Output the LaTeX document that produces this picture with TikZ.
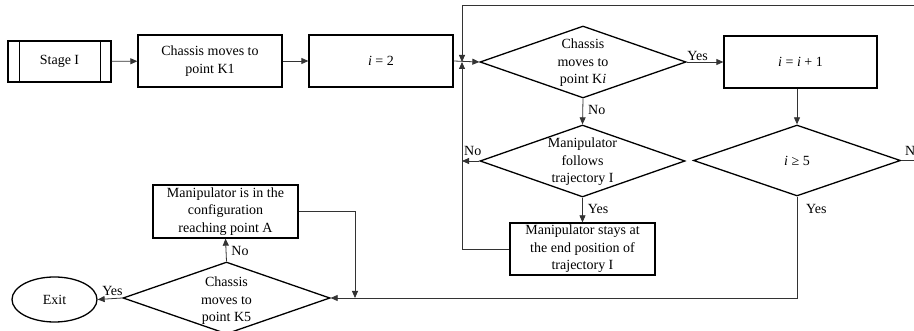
\documentclass[tikz,border=0pt]{standalone}
\usepackage{fontspec}
\setmainfont{Liberation Serif}
\usetikzlibrary{shapes.geometric,arrows.meta}
\begin{document}
\begin{tikzpicture}[x=1pt,y=-1pt,
  every node/.style={font=\fontsize{14}{17.5}\selectfont},
  box/.style={draw=black,line width=1.3pt,rectangle,align=center,inner sep=0pt},
  dia/.style={draw=black,line width=1.3pt,diamond,inner sep=0pt},
  dtext/.style={align=center,inner sep=0pt},
  conn/.style={draw=black!80,line width=0.8pt},
  arr/.style={conn,-{Triangle[length=7pt,width=6pt]}},
  lbl/.style={inner sep=1pt},
  slbl/.style={inner sep=1pt,xshift=4pt}]
\useasboundingbox (0,0) rectangle (914,331);

% nodes
\node[box,minimum width=103,minimum height=41] (s) at (59.5,61.5) {Stage I};
\draw[line width=1.3pt] ([xshift=12]s.north west) -- ([xshift=12]s.south west);
\draw[line width=1.3pt] ([xshift=-11]s.north east) -- ([xshift=-11]s.south east);
\node[box,minimum width=144,minimum height=52] (k1) at (210,61) {Chassis moves to\\point K1};
\node[box,minimum width=144,minimum height=52] (i2) at (381,61) {\textit{i} = 2};
\node[dia,minimum width=206,minimum height=72] (d1) at (583,62) {};
\node[dtext] (d1t) at (583,63) {Chassis\\moves to\\point K\textit{i}};
\node[box,minimum width=153,minimum height=52] (inc) at (800.5,62) {\textit{i} = \textit{i} + 1};
\node[dia,minimum width=207,minimum height=71] (d3) at (797,160.5) {};
\node[dtext] (d3t) at (797,160.5) {\textit{i} ≥ 5};
\node[dia,minimum width=205,minimum height=72] (d2) at (582.5,161) {};
\node[dtext] (d2t) at (582.5,162) {Manipulator\\follows\\trajectory I};
\node[box,minimum width=145,minimum height=52] (stay) at (582.5,249) {Manipulator stays at\\the end position of\\trajectory I};
\node[box,minimum width=145,minimum height=53] (cfg) at (225.5,211.5) {Manipulator is in the\\configuration\\reaching point A};
\node[dia,minimum width=207,minimum height=72] (d4) at (226.5,298) {};
\node[dtext] (d4t) at (226.5,301) {Chassis\\moves to\\point K5};
\node[draw=black,line width=1.3pt,ellipse,minimum width=85,minimum height=45,inner sep=0pt] (exit) at (54.5,299.5) {Exit};

% helper coordinates
\coordinate (loopc) at (462,62);
\coordinate (nocol) at (462,161);
\coordinate (cfgin) at (355,298);

% connectors
\draw[arr] (s) -- (k1);
\draw[arr] (k1) -- (i2);
\draw[arr] (i2.east) -- (d1.west);
\draw[arr] (d1.east) -- (inc.west) node[lbl,pos=0.3,above] (yes1) {Yes};
\draw[arr] (d3.north |- inc.south) -- (d3.north);
\draw[arr] (d1.south) -- (d2.north) node[slbl,pos=0.45,right] (no1) {No};
\draw[arr] (d2.west) -- (nocol);
\node[lbl,anchor=south west] (no2) at (463,157) {No};
\draw[arr] (d2.south) -- (stay.north) node[slbl,pos=0.45,right] (yes2) {Yes};
\draw[arr] (stay.west) -| (loopc);
\draw[arr] (d3.east) -- (930,160.5) |- (462,5) -- (loopc);
\node[lbl,anchor=south west] (no3) at (904,157) {No};
\draw[arr] (d3.south) |- (d4.east);
\node[lbl,anchor=north west] (yes3) at (805,203) {Yes};
\draw[arr] (d4.west) -- (exit.east) node[lbl,pos=0.4,above,yshift=2pt] (yes4) {Yes};
\draw[arr] (d4.north) -- (cfg.south) node[slbl,pos=0.45,right] (no4) {No};
\draw[arr] (cfg.east) -| (cfgin);
\end{tikzpicture}
\end{document}
